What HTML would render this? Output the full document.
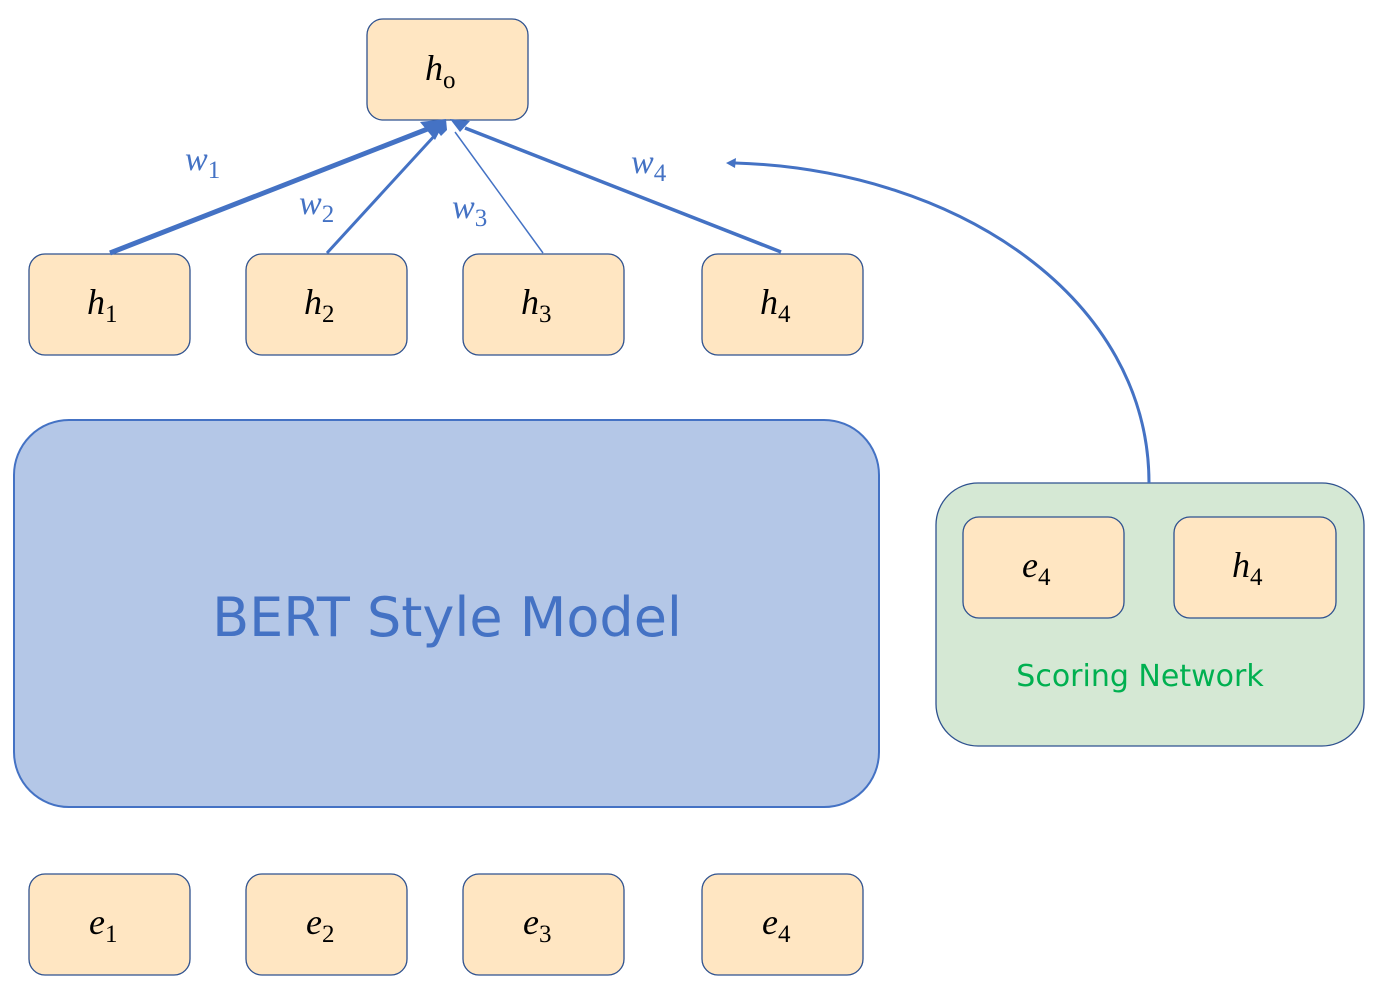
<!DOCTYPE html>
<html><head><meta charset="utf-8"><style>
body{margin:0;background:#fff;}
svg{display:block;}
.m{font-family:"Liberation Serif",serif;font-style:italic;font-size:36px;fill:#000;}
.s{font-size:25px;font-style:normal;}
.w{font-family:"Liberation Serif",serif;font-style:italic;font-size:34px;fill:#4472C4;}
</style></head><body>
<svg width="1378" height="997" viewBox="0 0 1378 997">
<g fill="#FFE6C2" stroke="#2F528F" stroke-width="1.3">
<rect x="367" y="19" width="161" height="101" rx="16"/>
<rect x="29" y="254" width="161" height="101" rx="16"/>
<rect x="246" y="254" width="161" height="101" rx="16"/>
<rect x="463" y="254" width="161" height="101" rx="16"/>
<rect x="702" y="254" width="161" height="101" rx="16"/>
<rect x="29" y="874" width="161" height="101" rx="16"/>
<rect x="246" y="874" width="161" height="101" rx="16"/>
<rect x="463" y="874" width="161" height="101" rx="16"/>
<rect x="702" y="874" width="161" height="101" rx="16"/>
</g>
<rect x="14" y="420" width="865" height="387" rx="55" fill="#B4C7E7" stroke="#4472C4" stroke-width="2"/>
<text x="447" y="636" text-anchor="middle" font-family="'DejaVu Sans','Liberation Sans',sans-serif" font-size="54" fill="#4472C4">BERT Style Model</text>
<rect x="936" y="483" width="428" height="263" rx="42" fill="#D5E8D4" stroke="#2F528F" stroke-width="1.3"/>
<g fill="#FFE6C2" stroke="#2F528F" stroke-width="1.3">
<rect x="963" y="517" width="161" height="101" rx="16"/>
<rect x="1174" y="517" width="162" height="101" rx="16"/>
</g>
<text x="1140" y="686" text-anchor="middle" font-family="'DejaVu Sans','Liberation Sans',sans-serif" font-size="30" fill="#00B050">Scoring Network</text>
<g stroke="#4472C4" fill="none">
<line x1="110" y1="253" x2="430" y2="128" stroke-width="5"/>
<line x1="327" y1="253" x2="437" y2="133" stroke-width="3"/>
<line x1="543" y1="253" x2="455" y2="132" stroke-width="1.5"/>
<line x1="781" y1="252" x2="465" y2="128" stroke-width="3.5"/>
<path d="M1149,483 C1149,300 960,170 735,163" stroke-width="3"/>
</g>
<g fill="#4472C4">
<polygon points="446,119 420,122 435,140"/>
<polygon points="446,119 432,124 441,136 447,130"/>
<polygon points="450,119 470,121 460,132"/>
<polygon points="726,163 736,158 735,168"/>
</g>
<text class="m" x="425" y="80">h<tspan class="s" dy="8" font-style="italic">o</tspan></text>
<text class="m" x="87" y="314">h<tspan class="s" dy="8">1</tspan></text>
<text class="m" x="304" y="314">h<tspan class="s" dy="8">2</tspan></text>
<text class="m" x="521" y="314">h<tspan class="s" dy="8">3</tspan></text>
<text class="m" x="760" y="314">h<tspan class="s" dy="8">4</tspan></text>
<text class="m" x="89" y="934">e<tspan class="s" dy="8">1</tspan></text>
<text class="m" x="306" y="934">e<tspan class="s" dy="8">2</tspan></text>
<text class="m" x="523" y="934">e<tspan class="s" dy="8">3</tspan></text>
<text class="m" x="762" y="934">e<tspan class="s" dy="8">4</tspan></text>
<text class="m" x="1022" y="577">e<tspan class="s" dy="8">4</tspan></text>
<text class="m" x="1232" y="577">h<tspan class="s" dy="8">4</tspan></text>
<text class="w" x="185" y="170">w<tspan class="s" dy="8">1</tspan></text>
<text class="w" x="299" y="214">w<tspan class="s" dy="8">2</tspan></text>
<text class="w" x="452" y="218">w<tspan class="s" dy="8">3</tspan></text>
<text class="w" x="631" y="173">w<tspan class="s" dy="8">4</tspan></text>
</svg>
</body></html>
